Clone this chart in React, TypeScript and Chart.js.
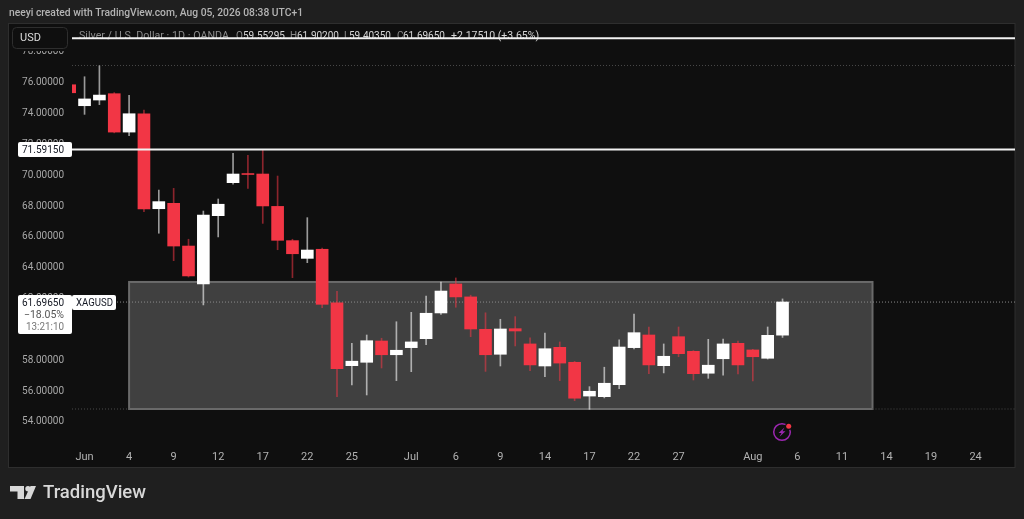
import React, { useEffect, useRef } from "react";
import { Chart, registerables } from "chart.js";

Chart.register(...registerables);

const opens = [75.79,74.43,74.80,75.21,72.72,73.91,67.75,68.10,65.33,62.87,67.30,69.44,70.03,70.00,67.90,65.68,64.53,65.12,61.64,57.57,57.79,59.17,58.28,58.74,59.32,60.99,62.87,62.03,59.93,58.31,59.97,58.98,57.55,58.76,57.79,55.60,55.56,56.34,58.74,59.56,57.57,59.45,58.50,57.08,58.02,59.02,58.59,58.05,59.55];
const highs = [75.85,76.31,77.02,75.28,75.10,74.15,68.96,69.07,65.77,67.60,68.38,71.34,71.21,71.60,69.87,65.77,67.17,65.20,62.40,59.02,59.56,59.35,60.42,61.03,62.09,63.00,63.26,62.14,61.00,60.58,60.75,59.37,59.69,59.11,57.85,56.21,57.47,59.24,60.92,60.08,58.98,60.08,58.55,59.28,59.30,59.17,58.63,60.08,61.90];
const lows = [75.20,73.87,74.50,72.67,72.48,67.56,66.16,64.38,63.32,61.51,65.92,69.35,69.07,66.80,65.09,63.28,64.25,61.33,55.56,56.32,55.67,57.42,56.60,57.18,58.93,60.90,61.36,59.45,57.20,57.55,58.85,57.25,56.86,56.60,55.30,54.74,55.48,56.08,58.65,57.05,57.10,58.15,56.64,56.75,56.95,57.03,56.58,58.00,59.40];
const closes = [75.27,74.87,75.12,72.72,73.91,67.73,68.21,65.33,63.39,67.34,68.04,70.00,69.97,67.93,65.70,64.83,65.07,61.55,57.38,57.86,59.19,58.28,58.57,59.11,60.97,62.41,62.03,59.95,58.28,59.95,59.82,57.62,58.67,57.74,55.46,55.91,56.43,58.78,59.71,57.62,58.18,58.35,57.05,57.60,58.98,57.62,58.15,59.54,61.70];

const xTickBars = [1,4,7,10,13,16,19,23,26,29,32,35,38,41,46,49,52,55,58,61];
const xTickLabels = ["Jun","4","9","12","17","22","25","Jul","6","9","14","17","22","27","Aug","6","11","14","19","24"];
const yTickValues = [54,56,58,60,62,64,66,68,70,72,74,76,78];

const topLevel = 78.8;
const horizontalLevel = 71.5915;
const lastPrice = 61.6965;
const upperDotted = 77.04;
const boxTop = 63.0;
const boxBottom = 54.76;
const boxFromBar = 4.0;
const boxToBar = 54.06;

const headerText = "neeyi created with TradingView.com, Aug 05, 2026 08:38 UTC+1";
const legendParts: [string, number, boolean, number][] = [
  ["Silver / U.S. Dollar · 1D · OANDA", 79, false, 10.7],
  ["O", 236, false, 10], ["59.55295", 243, true, 10],
  ["H", 290, false, 10], ["61.90200", 297, true, 10],
  ["L", 344, false, 10], ["59.40350", 349, true, 10],
  ["C", 397, false, 10], ["61.69650", 403, true, 10],
  ["+2.17510 (+3.65%)", 451, true, 10.5],
];

const FONT = "Roboto, 'Open Sans', sans-serif";
const RED = "#f23645";
const XMIN = 0.155;
const XMAX = 63.655;

function roundBox(ctx: CanvasRenderingContext2D, x: number, y: number, w: number, h: number, r: number, fill: string, stroke?: string) {
  ctx.beginPath();
  ctx.roundRect(x, y, w, h, r);
  ctx.fillStyle = fill;
  ctx.fill();
  if (stroke) {
    ctx.strokeStyle = stroke;
    ctx.lineWidth = 1;
    ctx.stroke();
  }
}

const framePlugin = {
  id: "frame",
  beforeDraw(chart: any) {
    const { ctx } = chart;
    // nudge the price labels down to the reference's text centre
    chart.scales.y.getLabelItems(chart.chartArea).forEach((item: any) => {
      if (!item.nudged) {
        item.options.translation[1] += 1.2;
        item.nudged = true;
      }
    });
    ctx.save();
    ctx.fillStyle = "#1f1f1f";
    ctx.fillRect(0, 0, 1024, 519);
    ctx.fillStyle = "#0f0f0f";
    ctx.fillRect(9, 23.5, 1006, 443.5);
    ctx.strokeStyle = "#2e2e2e";
    ctx.lineWidth = 1;
    ctx.strokeRect(8.5, 23.5, 1006.5, 444);
    ctx.restore();
  },
  beforeDatasetsDraw(chart: any) {
    const { ctx, scales } = chart;
    const l = scales.x.getPixelForValue(boxFromBar);
    const r = scales.x.getPixelForValue(boxToBar);
    const t = scales.y.getPixelForValue(boxTop);
    const b = scales.y.getPixelForValue(boxBottom);
    ctx.save();
    ctx.fillStyle = "#404040";
    ctx.fillRect(l, t, r - l, b - t);
    ctx.strokeStyle = "#6a6a6a";
    ctx.lineWidth = 2;
    ctx.strokeRect(l, t, r - l, b - t);
    ctx.textBaseline = "middle";
    for (const [text, x, strong, size] of legendParts) {
      ctx.font = `${size}px ${FONT}`;
      ctx.fillStyle = strong ? "#d6d6d6" : "#8c8c8c";
      ctx.fillText(text, x, 36);
    }
    ctx.restore();
  },
  afterDraw(chart: any) {
    const { ctx } = chart;
    ctx.save();
    ctx.fillStyle = "#0f0f0f";
    ctx.fillRect(10, 25, 62, 26);
    roundBox(ctx, 12.5, 27.5, 55, 21, 4, "#0f0f0f", "#2e2e2e");

    ctx.textBaseline = "middle";
    ctx.textAlign = "left";
    ctx.fillStyle = "#dcdcdc";
    ctx.font = `11px ${FONT}`;
    ctx.fillText("USD", 20, 38);

    ctx.fillStyle = "#b4b4b4";
    ctx.font = `500 11.5px ${FONT}`;
    ctx.fillText(headerText, 9, 13, 294);

    roundBox(ctx, 18, 142, 54, 15, 2, "#ffffff");
    roundBox(ctx, 18, 295, 54, 39, 2, "#ffffff");
    roundBox(ctx, 72, 295, 44, 15, 2, "#ffffff");
    ctx.textAlign = "right";
    ctx.font = `10.5px ${FONT}`;
    ctx.fillStyle = "#131722";
    ctx.fillText("71.59150", 64, 150, 42);
    ctx.fillText("61.69650", 64, 303, 42);
    ctx.fillStyle = "#555555";
    ctx.fillText("−18.05%", 64, 315.5);
    ctx.fillStyle = "#777777";
    ctx.fillText("13:21:10", 64, 327.5, 38);
    ctx.textAlign = "left";
    ctx.fillStyle = "#131722";
    ctx.fillText("XAGUSD", 76, 303, 37);

    // TradingView mark
    ctx.fillStyle = "#d8d8d8";
    ctx.beginPath();
    ctx.moveTo(10, 486); ctx.lineTo(24, 486); ctx.lineTo(24, 499); ctx.lineTo(17.5, 499); ctx.lineTo(17.5, 491.5); ctx.lineTo(10, 491.5);
    ctx.closePath();
    ctx.fill();
    ctx.beginPath();
    ctx.arc(28, 488.7, 2.7, 0, Math.PI * 2);
    ctx.fill();
    ctx.beginPath();
    ctx.moveTo(30.5, 486); ctx.lineTo(36, 486); ctx.lineTo(30.5, 499); ctx.lineTo(24.5, 499);
    ctx.closePath();
    ctx.fill();
    ctx.font = `500 18.5px ${FONT}`;
    ctx.fillText("TradingView", 43, 493, 103);

    // Lightning badge
    ctx.strokeStyle = "#9c27b0";
    ctx.lineWidth = 1.5;
    ctx.beginPath();
    ctx.arc(782, 432, 8.3, 0, Math.PI * 2);
    ctx.stroke();
    ctx.fillStyle = "#9c27b0";
    ctx.beginPath();
    ctx.moveTo(784.5, 427.5); ctx.lineTo(778.5, 433); ctx.lineTo(781.5, 433); ctx.lineTo(779.5, 436.8); ctx.lineTo(785.5, 431.3); ctx.lineTo(782.5, 431.3);
    ctx.closePath();
    ctx.fill();
    ctx.fillStyle = "#0f0f0f";
    ctx.beginPath();
    ctx.arc(788.7, 426.3, 3.6, 0, Math.PI * 2);
    ctx.fill();
    ctx.fillStyle = RED;
    ctx.beginPath();
    ctx.arc(788.7, 426.3, 2.5, 0, Math.PI * 2);
    ctx.fill();
    ctx.restore();
  },
};

function flatLine(y: number, from: number, to: number, color: string, width: number, dash: number[], order: number) {
  return {
    type: "line" as const,
    data: [{ x: from, y }, { x: to, y }],
    borderColor: color,
    borderWidth: width,
    borderDash: dash,
    pointRadius: 0,
    order,
  };
}

export default function App() {
  const ref = useRef<HTMLCanvasElement>(null);

  useEffect(() => {
    document.body.style.background = "#1f1f1f";
    const up = closes.map((c, i) => c >= opens[i]);
    const chart = new Chart(ref.current!, {
      type: "bar",
      data: {
        datasets: [
          flatLine(upperDotted, XMIN, XMAX, "#4a4a4a", 1, [1, 2], 4),
          flatLine(boxBottom, XMIN, boxFromBar, "#4a4a4a", 1, [1, 2], 4),
          flatLine(boxBottom, boxToBar, XMAX, "#4a4a4a", 1, [1, 2], 4),
          flatLine(lastPrice, XMIN, XMAX, "#8a8a8a", 1, [1, 2], 3),
          {
            data: highs.map((h, i) => ({ x: i, y: [lows[i], h] })),
            backgroundColor: up.map((u) => (u ? "rgba(255,255,255,0.58)" : "rgba(242,54,69,0.55)")),
            barThickness: 1,
            grouped: false,
            order: 2,
          },
          {
            data: opens.map((o, i) => ({ x: i, y: [o, closes[i]] })),
            backgroundColor: up.map((u) => (u ? "#ffffff" : RED)),
            barThickness: 12,
            grouped: false,
            order: 1,
          },
          flatLine(topLevel, XMIN, XMAX, "#f2f2f2", 2, [], 0),
          flatLine(horizontalLevel, XMIN, XMAX, "#f2f2f2", 2, [], 0),
        ] as any,
      },
      options: {
        responsive: false,
        animation: false,
        devicePixelRatio: 1,
        layout: { autoPadding: false, padding: { left: 9, right: 9, top: 24, bottom: 52 } },
        plugins: { legend: { display: false }, tooltip: { enabled: false }, title: { display: false } },
        scales: {
          x: {
            type: "linear",
            offset: false,
            min: XMIN,
            max: XMAX,
            grid: { display: false, drawTicks: false, offset: false },
            border: { display: false },
            afterBuildTicks: (scale: any) => {
              scale.ticks = xTickBars.map((value) => ({ value }));
            },
            afterFit: (scale: any) => {
              scale.height = 27;
              scale.paddingLeft = 0;
              scale.paddingRight = 0;
            },
            ticks: {
              autoSkip: false,
              maxRotation: 0,
              padding: 11,
              color: "#b2b2b2",
              font: { family: FONT, size: 11 },
              callback: (v: any) => xTickLabels[xTickBars.indexOf(Number(v))] ?? "",
            },
          },
          y: {
            type: "linear",
            position: "left",
            min: 52.75,
            max: 79.73,
            grid: { display: false, drawTicks: false },
            border: { display: false },
            afterBuildTicks: (scale: any) => {
              scale.ticks = yTickValues.map((value) => ({ value }));
            },
            afterFit: (scale: any) => {
              scale.width = 63;
              scale.paddingTop = 0;
              scale.paddingBottom = 0;
            },
            ticks: {
              autoSkip: false,
              padding: 8,
              color: "#a8a8a8",
              font: { family: FONT, size: 10 },
              callback: (v: any) => Number(v).toFixed(5),
            },
          },
        },
      },
      plugins: [framePlugin],
    } as any);
    return () => chart.destroy();
  }, []);

  return (
    <div style={{ position: "absolute", left: 0, top: 0, width: 1024, height: 519 }}>
      <canvas ref={ref} width={1024} height={519} style={{ display: "block" }} />
    </div>
  );
}
